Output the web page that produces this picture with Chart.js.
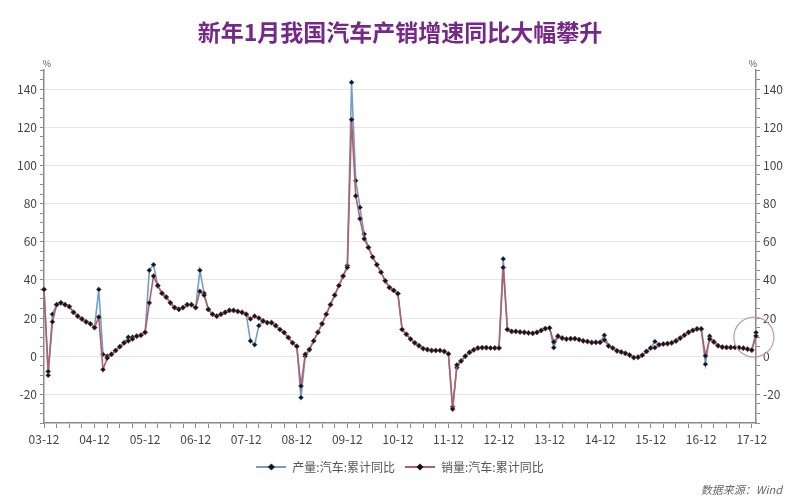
<!DOCTYPE html>
<html>
<head>
<meta charset="utf-8">
<title>汽车产销累计同比</title>
<script src="https://cdn.jsdelivr.net/npm/chart.js@4.4.0/dist/chart.umd.min.js"></script>
<style>
  html, body { margin: 0; padding: 0; background: #fff; }
  #wrap { width: 800px; height: 500px; position: relative; }
</style>
</head>
<body>
<div id="wrap"><canvas id="chart" width="800" height="500"></canvas></div>
<script>
const FONT = "'Noto Sans CJK SC', 'Noto Sans', sans-serif";

const chartTitle = '新年1月我国汽车产销增速同比大幅攀升';
const seriesNames = ['产量:汽车:累计同比', '销量:汽车:累计同比'];
const sourceText = '数据来源：Wind';
const unitLabel = '%';

// monthly categories, 2003-12 .. 2018-01
const months = ['03-12'];
for (let y = 4; y <= 18; y++) {
  for (let m = 1; m <= 12; m++) {
    if (y === 18 && m > 1) break;
    months.push(String(y).padStart(2, '0') + '-' + String(m).padStart(2, '0'));
  }
}

// 产量:汽车:累计同比 (%)
const production = [
  35,
  -10, 22, 27, 28, 27, 26, 23, 21, 19.5, 18, 17, 15,           // 2004
  35, 1, 0, 1, 3, 5, 7, 10, 10, 10.5, 11, 12.5,                // 2005
  45, 48, 37, 33, 31, 28, 25.5, 24.6, 25.5, 27, 27, 25.5,      // 2006
  45, 33, 24.5, 22, 21, 22, 23, 24, 24, 23.5, 23, 22,          // 2007
  8, 6, 16, 18.5, 17.6, 17.6, 16, 14, 12.4, 9.8, 7, 5.2,       // 2008
  -21.7, 0, 3.5, 8, 12.5, 17, 22, 27, 32, 37, 42, 47.5,        // 2009
  143.5, 92, 78, 64, 57, 52, 48, 44, 39.5, 36, 34.5, 32.8,     // 2010
  14, 11.5, 9, 7, 5.5, 4, 3.5, 3, 3, 3, 2.5, 1.2,              // 2011
  -26.5, -6, -2.5, 0, 2, 3.3, 4.3, 4.5, 4.5, 4.3, 4.3, 4.3,    // 2012
  51, 14, 13, 13, 12.7, 12.5, 12.2, 12, 12.5, 13.5, 14.5, 14.8,// 2013
  4.5, 10.5, 9.5, 9, 9.2, 9.2, 8.7, 8, 7.7, 7.2, 7.3, 7.3,     // 2014
  11, 5.4, 4.3, 2.8, 2.2, 1.5, 0.6, -0.7, -0.5, 0.5, 2.5, 4.3, // 2015
  7.7, 6, 6.4, 6.6, 7, 8, 9.5, 11, 12.5, 13.5, 14.3, 14.3,     // 2016
  -4.2, 10.5, 7.5, 5.5, 4.8, 4.6, 4.6, 4.6, 4.5, 4.2, 3.7, 3.2,// 2017
  12.4                                                         // 2018-01
];

// 销量:汽车:累计同比 (%)
const sales = [
  35,
  -8, 18, 27, 28, 27, 26, 23, 21, 19.5, 18, 17, 15,
  20.5, -7, -1, 1, 3, 5, 7, 8, 9, 10.5, 11, 12.5,
  28, 42, 37, 33, 31, 28, 25.5, 24.6, 25.5, 27, 27, 25.5,
  34, 32, 24.5, 22, 21, 22, 23, 24, 24, 23.5, 23, 22,
  19.5, 21, 20, 18.5, 17.6, 17.6, 16, 14, 12.4, 9.8, 7, 5.2,
  -15.6, 1, 3.5, 8, 12.5, 17, 22, 27, 32, 37, 42, 46.5,
  124, 84, 72, 61.5, 57, 52, 48, 44, 39.5, 36, 34.5, 32.8,
  14, 11.5, 9, 7, 5.5, 4, 3.5, 3, 3, 3, 2.5, 1.2,
  -27.7, -4.6, -2.5, 0, 2, 3.3, 4.3, 4.5, 4.5, 4.3, 4.3, 4.3,
  46.5, 14, 13, 13, 12.7, 12.5, 12.2, 12, 12.5, 13.5, 14.5, 14.8,
  7.5, 10.5, 9.5, 9, 9.2, 9.2, 8.7, 8, 7.7, 7.2, 7.3, 7.3,
  8.5, 5.4, 4.3, 2.8, 2.2, 1.5, 0.6, -0.7, -0.5, 0.5, 2.5, 4.3,
  4.5, 6, 6.4, 6.6, 7, 8, 9.5, 11, 12.5, 13.5, 14.3, 14.3,
  0.2, 9, 7.5, 5.5, 4.8, 4.6, 4.6, 4.6, 4.5, 4.2, 3.7, 3.2,
  10.6
];

const lineColors = ['#6f9fcc', '#b25f6b'];

// little "—◆—" picture for the legend
function legendIcon(color) {
  const c = document.createElement('canvas');
  c.width = 30; c.height = 10;
  const g = c.getContext('2d');
  g.strokeStyle = color; g.lineWidth = 2;
  g.beginPath(); g.moveTo(0, 5); g.lineTo(30, 5); g.stroke();
  g.fillStyle = '#111';
  g.beginPath(); g.moveTo(15, 1.5); g.lineTo(18.5, 5); g.lineTo(15, 8.5); g.lineTo(11.5, 5); g.closePath(); g.fill();
  return c;
}

const extras = {
  id: 'extras',
  afterDraw(chart) {
    const ctx = chart.ctx;
    const a = chart.chartArea;
    ctx.save();
    // title
    ctx.fillStyle = '#76278a';
    ctx.font = "bold 23px " + FONT;
    ctx.textAlign = 'center';
    ctx.textBaseline = 'middle';
    ctx.fillText(chartTitle, 400, 32);
    // % marks on both axes
    ctx.fillStyle = '#555';
    ctx.font = "9px " + FONT;
    ctx.textBaseline = 'bottom';
    ctx.fillText(unitLabel, a.left + 3, a.top - 2);
    ctx.fillText(unitLabel, a.right - 3, a.top - 2);
    // source
    ctx.font = "italic 11px " + FONT;
    ctx.textAlign = 'right';
    ctx.textBaseline = 'middle';
    ctx.fillStyle = '#666';
    ctx.fillText(sourceText, 782, 490);
    ctx.restore();
  },
  afterDatasetsDraw(chart) {
    // circle round the latest month
    const xs = chart.scales.x, ys = chart.scales.y;
    const cx = xs.getPixelForValue(months.length - 1.5);
    const cy = ys.getPixelForValue(10);
    const ctx = chart.ctx;
    ctx.save();
    ctx.strokeStyle = '#c99a9e';
    ctx.lineWidth = 1.2;
    ctx.beginPath();
    ctx.arc(cx, cy, 20, 0, Math.PI * 2);
    ctx.stroke();
    ctx.restore();
  }
};

const tickFont = { family: FONT, size: 12 };
const axisBorder = { color: '#8a8a8a', width: 1.5 };

function yAxis(pos) {
  return {
    position: pos,
    min: -35,
    max: 150,
    ticks: {
      stepSize: 5,
      autoSkip: false,
      color: '#444',
      font: tickFont,
      padding: 3,
      callback: v => (v % 20 === 0 ? v : '')
    },
    grid: {
      drawOnChartArea: pos === 'left',
      color: ctx => (ctx.tick && ctx.tick.value % 20 === 0 ? '#e6e6e6' : 'rgba(0,0,0,0)'),
      tickColor: '#8a8a8a',
      tickLength: 4
    },
    border: axisBorder,
    afterFit(s) { s.width = 44; }
  };
}

new Chart(document.getElementById('chart'), {
  type: 'line',
  data: {
    labels: months,
    datasets: [
      { label: seriesNames[0], data: production, borderColor: lineColors[0], order: 2 },
      { label: seriesNames[1], data: sales, borderColor: lineColors[1], order: 1 }
    ]
  },
  options: {
    responsive: false,
    animation: false,
    layout: { padding: { top: 70, left: 0, right: 0, bottom: 17 } },
    elements: {
      line: { borderWidth: 1.6, tension: 0 },
      point: { radius: 2.6, pointStyle: 'rectRot', backgroundColor: '#151515', borderColor: '#151515', borderWidth: 0.5 }
    },
    scales: {
      x: {
        type: 'category',
        offset: false,
        grid: { drawOnChartArea: false, tickColor: '#8a8a8a', tickLength: 5 },
        border: axisBorder,
        ticks: {
          autoSkip: false,
          maxRotation: 0,
          minRotation: 0,
          padding: 4,
          color: '#444',
          font: tickFont,
          callback(v) {
            const l = this.getLabelForValue(v);
            return l.endsWith('-12') ? l : '';
          }
        },
        afterBuildTicks(s) { s.ticks = s.ticks.filter(t => t.value % 3 === 0); },
        afterFit(s) { s.height = 28; }
      },
      y: yAxis('left'),
      y2: yAxis('right')
    },
    plugins: {
      title: { display: false },
      tooltip: { enabled: false },
      legend: {
        position: 'bottom',
        labels: {
          usePointStyle: true,
          pointStyleWidth: 30,
          color: '#555',
          font: { family: FONT, size: 12 },
          padding: 10,
          sort: (a, b) => a.datasetIndex - b.datasetIndex,
          generateLabels(chart) {
            const items = Chart.defaults.plugins.legend.labels.generateLabels(chart);
            items.forEach(it => { it.pointStyle = legendIcon(lineColors[it.datasetIndex]); });
            return items;
          }
        }
      }
    }
  },
  plugins: [extras]
});
</script>
</body>
</html>
